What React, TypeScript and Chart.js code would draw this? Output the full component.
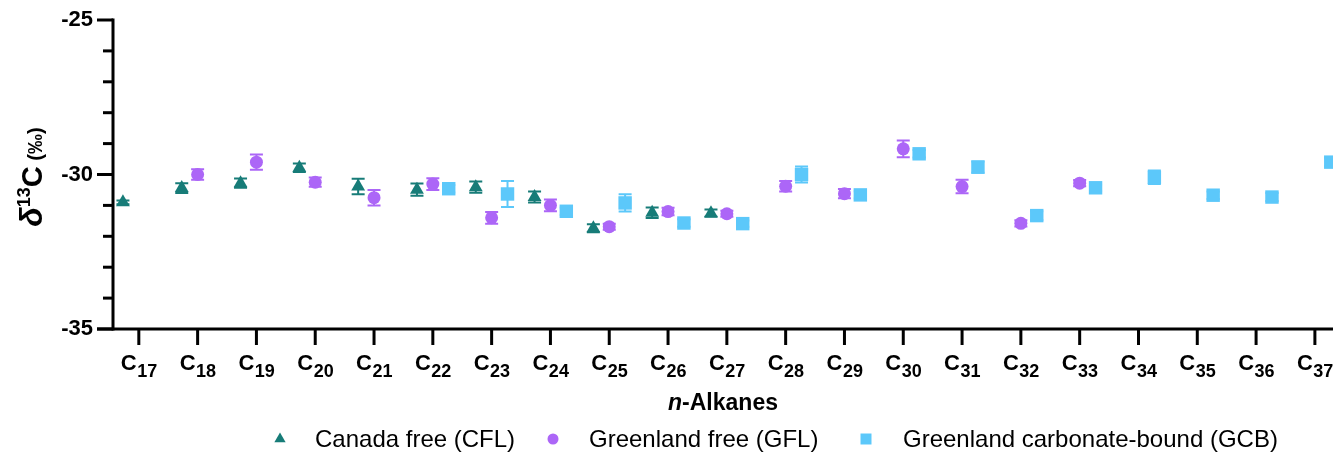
import React, { useEffect, useRef } from "react";
import { Chart, registerables } from "chart.js";

Chart.register(...registerables);

// ---------- data ----------
const carbonNumbers = [17, 18, 19, 20, 21, 22, 23, 24, 25, 26, 27, 28, 29, 30, 31, 32, 33, 34, 35, 36, 37];
const tickSubscripts = ["17", "18", "19", "20", "21", "22", "23", "24", "25", "26", "27", "28", "29", "30", "31", "32", "33", "34", "35", "36", "37"];

const cflValues = [-30.9, -30.44, -30.28, -29.78, -30.39, -30.49, -30.41, -30.73, -31.74, -31.24, -31.25, null, null, null, null, null, null, null, null, null, null];
const cflErrors = [0.06, 0.16, 0.15, 0.14, 0.25, 0.2, 0.18, 0.18, 0.13, 0.17, 0.12, 0, 0, 0, 0, 0, 0, 0, 0, 0, 0];

const gflValues = [null, -30.0, -29.6, -30.25, -30.75, -30.31, -31.4, -31.0, -31.69, -31.2, -31.27, -30.38, -30.62, -29.17, -30.39, -31.58, -30.28, null, null, null, null];
const gflErrors = [0, 0.17, 0.25, 0.15, 0.25, 0.19, 0.19, 0.19, 0.1, 0.12, 0.1, 0.17, 0.15, 0.27, 0.22, 0.1, 0.1, 0, 0, 0, 0];

const gcbValues = [null, null, null, null, null, -30.46, -30.63, -31.19, -30.92, -31.57, -31.59, -30.0, -30.66, -29.33, -29.76, -31.33, -30.43, -30.09, -30.67, -30.73, -29.6];
const gcbErrors = [0, 0, 0, 0, 0, 0.12, 0.42, 0.12, 0.28, 0.12, 0.1, 0.26, 0.12, 0.12, 0.18, 0.14, 0.1, 0.22, 0.12, 0.13, 0.14];

const seriesLabels = ["Canada free (CFL)", "Greenland free (GFL)", "Greenland carbonate-bound (GCB)"];
const yTickValues = [-35, -30, -25];

// ---------- styles ----------
const TEAL = "#177C78";
const PURPLE = "#AC66F7";
const BLUE = "#5CC8FA";
const FONT = '"Liberation Sans", Arial, Helvetica, sans-serif';
const W = 1333;
const H = 456;
const OFFSET = 0.27;

function toPoints(values: (number | null)[], errs: number[], off: number) {
  const pts: { x: number; y: number; e: number }[] = [];
  values.forEach((v, i) => {
    if (v !== null && v !== undefined) pts.push({ x: carbonNumbers[i] + off, y: v, e: errs[i] });
  });
  return pts;
}

const errorBarPlugin = {
  id: "errorBars",
  beforeDatasetsDraw(chart: any) {
    const { ctx, scales } = chart;
    const x = scales.x;
    const y = scales.y;
    chart.data.datasets.forEach((ds: any) => {
      ctx.save();
      ctx.strokeStyle = ds.backgroundColor;
      ctx.lineWidth = 2;
      ds.data.forEach((p: any) => {
        if (!p.e) return;
        const px = x.getPixelForValue(p.x);
        const yt = y.getPixelForValue(p.y + p.e);
        const yb = y.getPixelForValue(p.y - p.e);
        const cw = 6.5;
        ctx.beginPath();
        ctx.moveTo(px, yt);
        ctx.lineTo(px, yb);
        ctx.moveTo(px - cw, yt);
        ctx.lineTo(px + cw, yt);
        ctx.moveTo(px - cw, yb);
        ctx.lineTo(px + cw, yb);
        ctx.stroke();
      });
      ctx.restore();
    });
  },
};

function drawMarker(ctx: CanvasRenderingContext2D, style: string, cx: number, cy: number, color: string) {
  ctx.fillStyle = color;
  ctx.beginPath();
  if (style === "triangle") {
    const r = 6.5;
    ctx.moveTo(cx, cy - r);
    ctx.lineTo(cx + r * 0.866, cy + r * 0.5);
    ctx.lineTo(cx - r * 0.866, cy + r * 0.5);
    ctx.closePath();
  } else if (style === "circle") {
    ctx.arc(cx, cy, 5.5, 0, Math.PI * 2);
  } else {
    ctx.rect(cx - 5.5, cy - 5.5, 11, 11);
  }
  ctx.fill();
}

const axesPlugin = {
  id: "axesDecor",
  afterDraw(chart: any) {
    const { ctx, chartArea, scales } = chart;
    const x = scales.x;
    const y = scales.y;
    const left = chartArea.left;
    const bottom = chartArea.bottom;
    ctx.save();
    ctx.strokeStyle = "#000";
    ctx.lineWidth = 3;
    ctx.lineCap = "butt";
    // y axis
    ctx.beginPath();
    ctx.moveTo(left, y.getPixelForValue(-25) - 1.5);
    ctx.lineTo(left, bottom + 1.5);
    ctx.stroke();
    // x axis
    ctx.beginPath();
    ctx.moveTo(left - 16, bottom);
    ctx.lineTo(W, bottom);
    ctx.stroke();
    // y ticks (minor every 1, major every 5)
    for (let v = -35; v <= -25; v++) {
      const py = y.getPixelForValue(v);
      const major = yTickValues.includes(v);
      ctx.beginPath();
      ctx.moveTo(left - (major ? 16 : 10), py);
      ctx.lineTo(left, py);
      ctx.stroke();
    }
    // x ticks and subscripted labels
    carbonNumbers.forEach((n, i) => {
      const px = x.getPixelForValue(n);
      ctx.beginPath();
      ctx.moveTo(px, bottom);
      ctx.lineTo(px, bottom + 16);
      ctx.stroke();
      ctx.fillStyle = "#000";
      ctx.textBaseline = "alphabetic";
      ctx.textAlign = "left";
      ctx.font = `bold 22px ${FONT}`;
      const wc = ctx.measureText("C").width;
      ctx.font = `bold 18px ${FONT}`;
      const ws = ctx.measureText(tickSubscripts[i]).width;
      const start = px - (wc + ws) / 2;
      ctx.font = `bold 22px ${FONT}`;
      ctx.fillText("C", start, 370);
      ctx.font = `bold 18px ${FONT}`;
      ctx.fillText(tickSubscripts[i], start + wc + 0.5, 377);
    });
    // x title
    const cx = (chartArea.left + chartArea.right) / 2;
    ctx.font = `italic bold 23px ${FONT}`;
    const wn = ctx.measureText("n").width;
    ctx.font = `bold 23px ${FONT}`;
    const wr = ctx.measureText("-Alkanes").width;
    const sx = cx - (wn + wr) / 2;
    ctx.font = `italic bold 23px ${FONT}`;
    ctx.fillText("n", sx, 410);
    ctx.font = `bold 23px ${FONT}`;
    ctx.fillText("-Alkanes", sx + wn, 410);

    // y title (rotated)
    ctx.save();
    ctx.translate(42, 177);
    ctx.rotate(-Math.PI / 2);
    const parts = [
      { t: "δ", f: `italic bold 32px ${FONT}`, dy: 0 },
      { t: "13", f: `bold 18px ${FONT}`, dy: -12 },
      { t: "C", f: `bold 29px ${FONT}`, dy: 0 },
      { t: " (‰)", f: `bold 20px ${FONT}`, dy: 0 },
    ];
    let total = 0;
    const widths = parts.map((p) => {
      ctx.font = p.f;
      const w = ctx.measureText(p.t).width;
      total += w;
      return w;
    });
    let px0 = -total / 2;
    parts.forEach((p, k) => {
      ctx.font = p.f;
      ctx.fillText(p.t, px0, p.dy);
      px0 += widths[k];
    });
    ctx.restore();

    // legend
    const legendItems = [
      { style: "triangle", color: TEAL, mx: 280, tx: 315 },
      { style: "circle", color: PURPLE, mx: 553, tx: 589 },
      { style: "rect", color: BLUE, mx: 866, tx: 903 },
    ];
    ctx.font = `24px ${FONT}`;
    legendItems.forEach((it, k) => {
      drawMarker(ctx, it.style, it.mx, 439, it.color);
      ctx.fillStyle = "#000";
      ctx.fillText(seriesLabels[k], it.tx, 447);
    });
    ctx.restore();
  },
};

export default function App() {
  const canvasRef = useRef<HTMLCanvasElement | null>(null);

  useEffect(() => {
    if (!canvasRef.current) return;
    const chart = new Chart(canvasRef.current, {
      type: "scatter",
      data: {
        datasets: [
          {
            label: seriesLabels[0],
            data: toPoints(cflValues, cflErrors, -OFFSET),
            pointStyle: "triangle",
            pointRadius: 8,
            backgroundColor: TEAL,
            borderColor: TEAL,
            pointBorderWidth: 0,
            borderWidth: 0,
          },
          {
            label: seriesLabels[1],
            data: toPoints(gflValues, gflErrors, 0),
            pointStyle: "circle",
            pointRadius: 6.5,
            backgroundColor: PURPLE,
            borderColor: PURPLE,
            pointBorderWidth: 0,
            borderWidth: 0,
          },
          {
            label: seriesLabels[2],
            data: toPoints(gcbValues, gcbErrors, OFFSET),
            pointStyle: "rect",
            pointRadius: 9.5,
            backgroundColor: BLUE,
            borderColor: BLUE,
            pointBorderWidth: 0,
            borderWidth: 0,
          },
        ],
      } as any,
      options: {
        animation: false,
        responsive: false,
        devicePixelRatio: 1,
        layout: { autoPadding: false, padding: { top: 20, left: 0, right: 0, bottom: 0 } },
        plugins: { legend: { display: false }, tooltip: { enabled: false } },
        scales: {
          x: {
            type: "linear",
            min: 16.561,
            max: 37.308,
            grid: { display: false, drawTicks: false },
            border: { display: false },
            ticks: { display: false },
            afterFit: (s: any) => {
              s.height = H - 329;
              s.paddingLeft = 0;
              s.paddingRight = 0;
            },
          },
          y: {
            type: "linear",
            min: -35,
            max: -25,
            grid: { display: false, drawTicks: false },
            border: { display: false },
            ticks: {
              stepSize: 1,
              padding: 20,
              color: "#000",
              font: { family: FONT, size: 22, weight: "bold" },
              callback: (v: any) => {
                const r = Math.round(Number(v));
                return Math.abs(Number(v) - r) < 1e-6 && yTickValues.includes(r) ? String(r) : "";
              },
            },
            afterFit: (s: any) => {
              s.width = 113;
              s.paddingTop = 0;
              s.paddingBottom = 0;
            },
          },
        },
      } as any,
      plugins: [errorBarPlugin, axesPlugin],
    });
    return () => chart.destroy();
  }, []);

  return (
    <div style={{ position: "absolute", left: 0, top: 0, width: W, height: H }}>
      <canvas ref={canvasRef} width={W} height={H} style={{ display: "block" }} />
    </div>
  );
}
